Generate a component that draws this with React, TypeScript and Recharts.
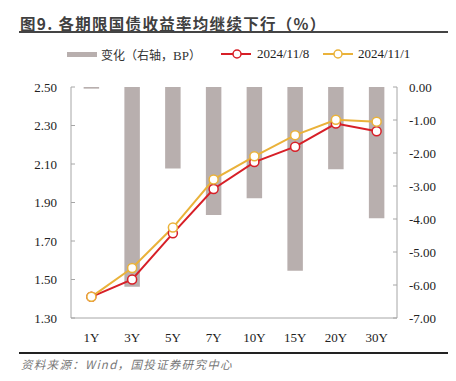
import React from 'react';
import { ComposedChart, Bar, Line, XAxis, YAxis } from 'recharts';

const tenors = ['1Y', '3Y', '5Y', '7Y', '10Y', '15Y', '20Y', '30Y'];
const yieldNov8 = [1.41, 1.50, 1.74, 1.97, 2.11, 2.19, 2.31, 2.27];
const yieldNov1 = [1.41, 1.56, 1.77, 2.02, 2.14, 2.25, 2.33, 2.32];
const changeBp = [-0.05, -6.05, -2.47, -3.88, -3.37, -5.57, -2.49, -3.98];
const leftTicks = [1.3, 1.5, 1.7, 1.9, 2.1, 2.3, 2.5];
const rightTicks = [-7, -6, -5, -4, -3, -2, -1, 0];

const data = tenors.map((name, i) => ({
  name,
  change: changeBp[i],
  d1108: yieldNov8[i],
  d1101: yieldNov1[i],
}));

const RED = '#d71f27';
const YELLOW = '#eab23a';
const GREY = '#b8afae';
const AXIS = '#a6a6a6';
const serif = '"Liberation Serif", "Times New Roman", serif';
const cjk = '"Noto Sans CJK SC", "Noto Sans", sans-serif';

// legend drawn as plain html so it does not push the plot down
const LegendBox = () => (
  <div style={{ position: 'absolute', left: 0, top: 46, width: 456, height: 16, fontSize: 12.5, color: '#222' }}>
    <div style={{ position: 'absolute', left: 67, top: 6, width: 30, height: 5, background: GREY }} />
    <span style={{ position: 'absolute', left: 101, top: 0, fontFamily: cjk, fontSize: 12, color: '#333' }}>
      变化（右轴，<span style={{ fontFamily: serif, fontSize: 13 }}>BP</span>）
    </span>
    <svg style={{ position: 'absolute', left: 219, top: 1 }} width={34} height={14}>
      <line x1={2} y1={7} x2={32} y2={7} stroke={RED} strokeWidth={2} />
      <circle cx={18} cy={7} r={4} fill="#fff" stroke={RED} strokeWidth={1.5} />
    </svg>
    <span style={{ position: 'absolute', left: 257, top: 0, fontFamily: serif, fontSize: 13 }}>2024/11/8</span>
    <svg style={{ position: 'absolute', left: 321, top: 1 }} width={34} height={14}>
      <line x1={2} y1={7} x2={32} y2={7} stroke={YELLOW} strokeWidth={2} />
      <circle cx={17} cy={7} r={4} fill="#fff" stroke={YELLOW} strokeWidth={1.5} />
    </svg>
    <span style={{ position: 'absolute', left: 358, top: 0, fontFamily: serif, fontSize: 13 }}>2024/11/1</span>
  </div>
);

export default function App() {
  return (
    <div style={{ position: 'relative', width: 456, height: 381, margin: -8, background: '#fff', overflow: 'hidden' }}>
      <div
        style={{
          position: 'absolute', left: 0, top: 0, width: 200, height: 6,
          background: 'linear-gradient(to right, #f6cfd0, #fbe9e9 60%, #ffffff)',
        }}
      />
      <div
        style={{
          position: 'absolute', left: 20, top: 12, fontFamily: cjk, fontSize: 15.5,
          fontWeight: 700, color: '#404040', letterSpacing: 1.3, whiteSpace: 'nowrap',
        }}
      >
        图9. 各期限国债收益率均继续下行（%）
      </div>
      <div style={{ position: 'absolute', left: 0, top: 31, width: 3, height: 2, background: '#555' }} />
      <div style={{ position: 'absolute', left: 19, top: 31, width: 433, height: 2, background: '#444' }} />

      <LegendBox />

      <div style={{ position: 'absolute', left: 0, top: 0 }}>
        <ComposedChart
          width={456}
          height={381}
          data={data}
          margin={{ top: 87, right: 0, bottom: 33, left: 0 }}
          barCategoryGap="69%"
        >
          <XAxis
            dataKey="name"
            axisLine={{ stroke: AXIS }}
            tickLine={false}
            tick={{ fontFamily: serif, fontSize: 13, fill: '#222' }}
            tickMargin={9}
            height={30}
            interval={0}
          />
          <YAxis
            yAxisId="left"
            orientation="left"
            domain={[1.3, 2.5]}
            ticks={leftTicks}
            interval={0}
            width={71}
            axisLine={{ stroke: AXIS }}
            tickLine={{ stroke: AXIS }}
            tickSize={-4}
            tickMargin={18}
            tickFormatter={(v: number) => v.toFixed(2)}
            tick={{ fontFamily: serif, fontSize: 13, fill: '#222' }}
          />
          <YAxis
            yAxisId="right"
            orientation="right"
            domain={[-7, 0]}
            ticks={rightTicks}
            interval={0}
            width={59}
            axisLine={{ stroke: AXIS }}
            tickLine={{ stroke: AXIS }}
            tickSize={-4}
            tickMargin={16}
            tickFormatter={(v: number) => v.toFixed(2)}
            tick={{ fontFamily: serif, fontSize: 13, fill: '#222', textAnchor: 'start' }}
          />
          <Bar yAxisId="right" dataKey="change" fill={GREY} isAnimationActive={false} />
          <Line
            yAxisId="left"
            dataKey="d1108"
            stroke={RED}
            strokeWidth={2}
            dot={{ r: 4.5, fill: '#fff', stroke: RED, strokeWidth: 1.5 }}
            activeDot={false}
            isAnimationActive={false}
          />
          <Line
            yAxisId="left"
            dataKey="d1101"
            stroke={YELLOW}
            strokeWidth={2}
            dot={{ r: 4.5, fill: '#fff', stroke: YELLOW, strokeWidth: 1.5 }}
            activeDot={false}
            isAnimationActive={false}
          />
        </ComposedChart>
      </div>

      <div style={{ position: 'absolute', left: 19, top: 352, width: 433, height: 2, background: '#222' }} />
      <div style={{ position: 'absolute', left: 0, top: 352, width: 3, height: 2, background: '#555' }} />
      <div
        style={{
          position: 'absolute', left: 21, top: 356, fontFamily: cjk, fontSize: 11.5,
          fontStyle: 'italic', color: '#777', whiteSpace: 'nowrap', letterSpacing: 1.3,
        }}
      >
        资料来源：Wind，国投证券研究中心
      </div>
    </div>
  );
}
